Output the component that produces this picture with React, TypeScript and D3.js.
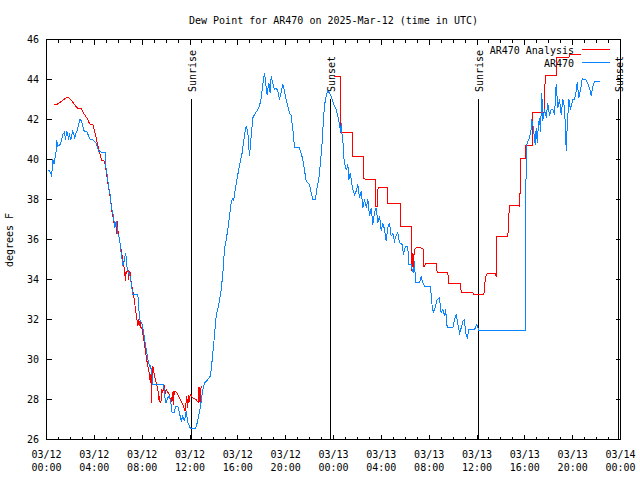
import React from "react";
import * as d3 from "d3";

// ---- data (hours after 2025-03-12 00:00 UTC, dew point °F) ----
const titleText = "Dew Point for AR470 on 2025-Mar-12 (time in UTC)";
const yLabelText = "degrees F";
const yTickValues = [26, 28, 30, 32, 34, 36, 38, 40, 42, 44, 46];
const seriesNames = ["AR470 Analysis", "AR470"];
const seriesColors = ["#ff0000", "#0a84ff"];

const analysisNight1: [number, number][] = [
  [0.59, 42.75], [0.86, 42.75], [1.09, 42.83], [1.37, 42.97], [1.65, 43.08], [1.87, 43.08],
  [2.06, 42.97], [2.34, 42.75], [2.62, 42.55], [2.9, 42.53], [3.18, 42.25], [3.46, 42.0],
  [3.6, 41.78], [3.87, 41.75], [4.1, 41.25], [4.2, 40.92], [4.37, 40.5], [4.52, 40.17],
  [4.63, 39.95], [4.85, 39.92], [4.93, 39.67], [5.05, 39.17], [5.13, 38.83], [5.27, 38.33],
  [5.41, 37.75], [5.49, 37.33], [5.6, 37.0], [5.69, 36.67], [5.8, 36.85], [5.85, 36.3],
  [5.9, 36.9], [5.96, 36.5], [6.1, 36.0], [6.24, 35.5], [6.38, 35.0], [6.52, 34.5],
  [6.6, 33.92], [6.65, 34.4], [6.71, 34.33], [6.8, 34.58], [6.88, 34.0], [6.92, 34.4],
  [7.0, 34.33], [7.08, 33.83], [7.22, 33.42], [7.36, 32.92], [7.44, 32.5], [7.55, 32.08],
  [7.64, 31.67], [7.72, 32.0], [7.78, 31.67], [7.83, 31.9], [7.9, 31.6], [8.0, 31.5],
  [8.14, 31.0], [8.25, 30.5], [8.33, 30.17], [8.47, 29.67], [8.55, 29.5], [8.61, 29.17],
  [8.7, 28.83], [8.75, 29.4], [8.8, 27.83], [8.84, 29.5], [8.89, 29.67], [9.03, 29.17],
  [9.17, 28.83], [9.31, 28.5], [9.4, 28.0], [9.45, 28.17], [9.5, 27.85], [9.59, 27.92],
  [9.65, 28.5], [9.72, 28.33], [9.8, 28.7], [9.87, 28.7], [9.92, 28.3], [10.0, 28.5],
  [10.28, 28.25], [10.4, 27.8], [10.45, 28.1], [10.5, 27.92], [10.58, 28.4], [10.62, 27.75],
  [10.68, 28.42], [10.73, 28.42], [10.9, 28.33], [11.12, 28.08], [11.4, 27.75], [11.6, 27.42],
  [11.66, 27.8], [11.73, 28.17], [11.8, 27.6], [11.85, 28.2], [11.9, 27.83], [12.03, 28.25],
  [12.23, 28.08], [12.5, 28.0], [12.68, 27.87], [12.72, 28.6], [12.76, 27.9], [12.8, 28.6],
  [12.85, 27.9], [12.93, 28.67],
];

const analysisNight2: [number, number][] = [
  [24.0, 44.13], [24.56, 44.13], [24.56, 41.33], [25.56, 41.33], [25.56, 40.13], [26.53, 40.13],
  [26.53, 39.03], [27.0, 39.0], [27.51, 39.0], [27.51, 37.67], [27.65, 37.67], [27.7, 38.5],
  [27.79, 38.58], [28.54, 38.58], [28.54, 37.8], [29.58, 37.8], [29.58, 36.63], [30.55, 36.63],
  [30.55, 34.42], [30.62, 35.3], [30.66, 34.4], [30.72, 35.2], [30.8, 35.5], [30.92, 35.58],
  [31.3, 35.58], [31.53, 35.5], [31.55, 34.67], [31.61, 34.67], [31.7, 34.78], [32.59, 34.78],
  [32.67, 34.33], [33.56, 34.33], [33.64, 33.8], [34.6, 33.8], [34.68, 33.37], [35.65, 33.37],
  [35.71, 33.23], [36.57, 33.23], [36.71, 34.13], [36.85, 34.28], [37.55, 34.28], [37.6, 34.13],
  [37.66, 35.17], [37.66, 36.13], [38.58, 36.13], [38.64, 36.95], [38.72, 37.72], [39.56, 37.72],
  [39.58, 37.65], [39.61, 38.8], [39.61, 40.03], [40.03, 40.03], [40.06, 40.7], [40.67, 40.7],
  [40.67, 42.33], [41.65, 42.33], [41.7, 44.2], [42.67, 44.2], [42.67, 45.08], [43.68, 45.08],
  [43.74, 45.25], [44.71, 45.25],
];

const stationSeries: [number, number][] = [
  [0.19, 39.47], [0.33, 39.33], [0.42, 39.2], [0.5, 39.6], [0.53, 40.0], [0.6, 39.8],
  [0.67, 39.83], [0.72, 40.1], [0.81, 40.42], [0.86, 40.95], [0.95, 40.67], [1.14, 40.75],
  [1.23, 40.92], [1.37, 41.25], [1.5, 41.37], [1.59, 41.0], [1.7, 41.42], [1.84, 41.08],
  [1.92, 41.25], [2.03, 41.0], [2.2, 41.42], [2.37, 41.08], [2.48, 41.33], [2.59, 41.5],
  [2.7, 41.75], [2.79, 42.0], [2.93, 41.92], [3.04, 41.67], [3.15, 41.42], [3.4, 41.37],
  [3.6, 41.03], [3.87, 41.0], [4.15, 40.83], [4.37, 40.42], [4.57, 40.37], [4.9, 40.37],
  [4.93, 39.75], [5.07, 39.25], [5.18, 38.67], [5.32, 38.25], [5.41, 37.67], [5.6, 37.17],
  [5.71, 36.58], [5.83, 36.92], [5.96, 36.33], [6.1, 36.08], [6.2, 35.5], [6.3, 35.1],
  [6.38, 34.67], [6.5, 34.9], [6.6, 35.3], [6.66, 35.17], [6.75, 34.5], [6.88, 34.33],
  [7.0, 34.17], [7.11, 33.67], [7.22, 33.25], [7.64, 33.25], [7.72, 32.5], [7.83, 31.92],
  [7.97, 31.83], [8.11, 31.42], [8.25, 30.83], [8.39, 30.33], [8.5, 29.92], [8.61, 29.67],
  [8.7, 29.7], [8.84, 29.17], [8.89, 28.75], [9.81, 28.75], [9.87, 28.17], [10.0, 27.83],
  [10.14, 28.08], [10.28, 28.2], [10.42, 27.75], [10.5, 27.33], [10.7, 27.33], [10.79, 27.67],
  [10.98, 27.67], [11.12, 27.33], [11.26, 26.92], [11.4, 27.17], [11.54, 26.92], [11.68, 27.42],
  [11.82, 26.83], [11.96, 26.67], [12.04, 26.53], [12.46, 26.53], [12.6, 26.83], [12.74, 27.25],
  [12.88, 27.67], [13.07, 28.5], [13.21, 28.83], [13.3, 28.87], [13.49, 29.0], [13.71, 29.17],
  [13.83, 29.83], [13.99, 30.83], [14.19, 32.17], [14.41, 32.75], [14.61, 33.5], [14.75, 34.33],
  [14.88, 35.5], [15.03, 36.0], [15.16, 36.5], [15.3, 37.17], [15.44, 37.83], [15.53, 38.03],
  [15.66, 37.97], [15.78, 38.5], [15.92, 39.0], [16.08, 39.5], [16.22, 39.92], [16.36, 40.33],
  [16.47, 40.83], [16.58, 41.33], [16.7, 41.67], [16.84, 41.33], [16.97, 40.17], [17.12, 41.17],
  [17.25, 42.08], [17.39, 42.25], [17.59, 42.42], [17.81, 42.67], [17.95, 43.08], [18.09, 43.75],
  [18.23, 44.33], [18.31, 43.92], [18.45, 43.25], [18.59, 43.83], [18.7, 43.33], [18.79, 44.17],
  [18.92, 43.83], [19.06, 43.5], [19.2, 43.58], [19.34, 43.42], [19.48, 43.0], [19.62, 43.33],
  [19.76, 43.75], [19.9, 43.42], [20.04, 43.0], [20.18, 42.67], [20.32, 42.33], [20.46, 42.2],
  [20.6, 41.5], [20.74, 40.58], [21.15, 40.58], [21.29, 40.33], [21.43, 40.0], [21.57, 39.5],
  [21.71, 38.92], [21.99, 38.75], [22.13, 38.33], [22.27, 38.0], [22.49, 38.0], [22.6, 38.5],
  [22.77, 39.0], [22.91, 39.83], [23.05, 40.83], [23.16, 42.0], [23.24, 42.67], [23.38, 43.17],
  [23.52, 43.42], [23.66, 43.33], [23.8, 43.17], [23.94, 42.92], [24.08, 42.67], [24.22, 42.5],
  [24.36, 42.17], [24.5, 41.75], [24.6, 41.4], [24.64, 41.8], [24.7, 41.33], [24.78, 41.0],
  [24.86, 40.08], [25.0, 39.58], [25.11, 39.5], [25.2, 39.75], [25.28, 39.0], [25.4, 39.33],
  [25.48, 39.0], [25.61, 38.5], [25.76, 38.25], [25.9, 38.42], [26.03, 38.75], [26.18, 38.08],
  [26.32, 38.42], [26.45, 37.58], [26.59, 38.0], [26.74, 37.6], [26.87, 38.0], [27.01, 37.17],
  [27.15, 37.58], [27.29, 36.75], [27.43, 37.33], [27.57, 37.58], [27.71, 36.83], [27.85, 37.17],
  [27.99, 36.42], [28.12, 36.83], [28.27, 36.5], [28.41, 35.92], [28.54, 36.58], [28.68, 36.83],
  [28.82, 36.17], [28.96, 36.3], [29.1, 35.92], [29.24, 36.2], [29.38, 36.33], [29.52, 35.83],
  [29.75, 35.75], [29.85, 35.25], [30.02, 35.67], [30.21, 35.67], [30.3, 34.75], [30.5, 34.75],
  [30.58, 34.5], [30.69, 34.33], [30.77, 34.92], [30.86, 33.83], [31.19, 33.83], [31.33, 34.17],
  [31.44, 33.9], [31.61, 33.67], [32.11, 33.67], [32.25, 32.67], [32.36, 32.33], [32.53, 32.67],
  [32.67, 33.0], [32.86, 33.08], [33.0, 32.33], [33.14, 32.5], [33.28, 32.17], [33.37, 32.5],
  [33.51, 31.58], [33.98, 31.58], [34.12, 32.0], [34.26, 32.25], [34.4, 31.75], [34.54, 31.33],
  [34.68, 31.58], [34.81, 31.9], [34.96, 32.0], [35.04, 31.33], [35.18, 31.08], [35.32, 31.5],
  [35.79, 31.5], [35.99, 31.75], [36.15, 31.45], [40.03, 31.45], [40.06, 36.0], [40.12, 40.67],
  [40.25, 40.92], [40.39, 41.08], [40.53, 41.5], [40.58, 42.0], [40.67, 41.75], [40.87, 40.75],
  [40.95, 41.58], [41.04, 40.83], [41.14, 41.8], [41.23, 42.08], [41.31, 41.4], [41.42, 43.33],
  [41.5, 41.92], [41.65, 42.5], [41.79, 42.1], [41.92, 42.83], [42.06, 42.2], [42.2, 42.5],
  [42.34, 42.5], [42.48, 42.25], [42.56, 43.0], [42.62, 43.75], [42.76, 42.58], [42.9, 43.0],
  [43.04, 42.25], [43.18, 43.0], [43.32, 42.58], [43.4, 41.5], [43.46, 40.42], [43.54, 41.6],
  [43.68, 43.0], [43.82, 42.5], [44.01, 43.0], [44.16, 43.0], [44.3, 43.42], [44.38, 43.87],
  [44.51, 43.08], [44.66, 43.5], [44.8, 44.03], [45.13, 43.97], [45.27, 43.8], [45.47, 43.42],
  [45.55, 43.17], [45.69, 43.67], [45.83, 43.92], [46.3, 43.92],
];

const sunEventLabels = ["Sunrise", "Sunset", "Sunrise", "Sunset"];
const sunEventHours = [12.07, 23.69, 36.07, 47.8];

// ---- chart ----
const W = 640;
const H = 480;
const BASE = Date.UTC(2025, 2, 12);
const toDate = (h: number) => new Date(BASE + h * 3600000);
const FONT = "'DejaVu Sans Mono', 'Liberation Mono', monospace";

export default function App() {
  const x = d3.scaleUtc().domain([toDate(0), toDate(48)]).range([46.5, 620.5]);
  const y = d3.scaleLinear().domain([26, 46]).range([439.5, 39.5]);
  const line = d3
    .line<[number, number]>()
    .x((d) => x(toDate(d[0])))
    .y((d) => y(d[1]));

  const majorTicks = x.ticks(d3.utcHour.every(4) as any);
  const minorTicks = x.ticks(d3.utcHour.every(1) as any);
  const fmtDate = d3.utcFormat("%m/%d");
  const fmtTime = d3.utcFormat("%H:%M");
  const [x0, x1] = x.range();
  const [yb, yt] = y.range();

  return (
    <svg
      width={W}
      height={H}
      style={{ position: "absolute", left: 0, top: 0, background: "#fff" }}
      fontFamily={FONT}
      fontSize={10}
    >
      <rect x={0} y={0} width={W} height={H} fill="#fff" />
      {/* title */}
      <text x={(x0 + x1) / 2} y={24} textAnchor="middle" fill="#000">
        {titleText}
      </text>
      {/* y label */}
      <text
        x={13}
        y={240}
        textAnchor="middle"
        transform="rotate(-90 13 240)"
        fill="#000"
      >
        {yLabelText}
      </text>

      <g shapeRendering="crispEdges" stroke="#000" strokeWidth={1}>
        {minorTicks.map((t, i) => (
          <g key={"mi" + i}>
            <line x1={x(t)} x2={x(t)} y1={yb} y2={yb - 3} />
            <line x1={x(t)} x2={x(t)} y1={yt} y2={yt + 3} />
          </g>
        ))}
        {majorTicks.map((t, i) => (
          <g key={"ma" + i}>
            <line x1={x(t)} x2={x(t)} y1={yb} y2={yb - 5} />
            <line x1={x(t)} x2={x(t)} y1={yt} y2={yt + 5} />
          </g>
        ))}
        {yTickValues.map((v) => (
          <g key={"yt" + v}>
            <line x1={x0} x2={x0 + 5} y1={y(v)} y2={y(v)} />
            <line x1={x1} x2={x1 - 5} y1={y(v)} y2={y(v)} />
          </g>
        ))}
      </g>

      {/* x tick labels */}
      {majorTicks.map((t, i) => (
        <g key={"xl" + i} fill="#000">
          <text x={x(t)} y={458} textAnchor="middle">
            {fmtDate(t)}
          </text>
          <text x={x(t)} y={471} textAnchor="middle">
            {fmtTime(t)}
          </text>
        </g>
      ))}
      {/* y tick labels */}
      {yTickValues.map((v) => (
        <text key={"yl" + v} x={39} y={y(v) + 3.5} textAnchor="end" fill="#000">
          {v}
        </text>
      ))}

      {/* sun events */}
      {sunEventHours.map((h, i) => {
        const xx = Math.round(x(toDate(h))) + 0.5;
        return (
          <g key={"sun" + i}>
            <line
              x1={xx}
              x2={xx}
              y1={99}
              y2={yb}
              stroke="#000"
              strokeWidth={1}
              shapeRendering="crispEdges"
            />
            <text
              x={xx + 4.5}
              y={92}
              textAnchor="start"
              transform={`rotate(-90 ${xx + 4.5} 92)`}
              fill="#000"
            >
              {sunEventLabels[i]}
            </text>
          </g>
        );
      })}

      {/* series */}
      <g fill="none" strokeWidth={1} shapeRendering="crispEdges">
        <path d={line(analysisNight1) || ""} stroke={seriesColors[0]} />
        <path d={line(analysisNight2) || ""} stroke={seriesColors[0]} />
        <path d={line(stationSeries) || ""} stroke={seriesColors[1]} />
      </g>

      {/* legend */}
      {seriesNames.map((name, i) => (
        <g key={"lg" + i}>
          <text x={574} y={53.5 + i * 13} textAnchor="end" fill="#000">
            {name}
          </text>
          <line
            x1={582}
            x2={610}
            y1={49.5 + i * 13}
            y2={49.5 + i * 13}
            stroke={seriesColors[i]}
            strokeWidth={1}
            shapeRendering="crispEdges"
          />
        </g>
      ))}

      {/* border */}
      <rect
        x={x0}
        y={yt}
        width={x1 - x0}
        height={yb - yt}
        fill="none"
        stroke="#000"
        strokeWidth={1}
        shapeRendering="crispEdges"
      />
    </svg>
  );
}
